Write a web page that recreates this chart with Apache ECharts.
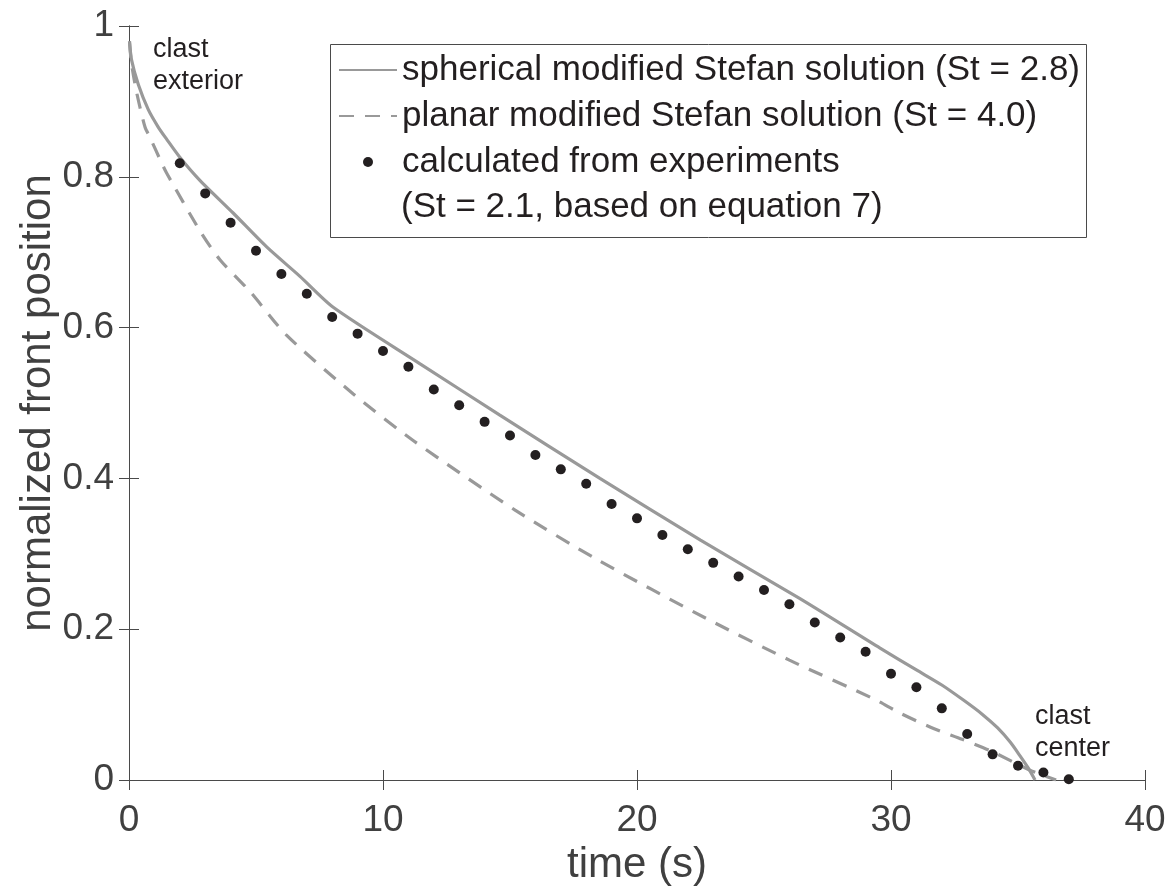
<!DOCTYPE html>
<html>
<head>
<meta charset="utf-8">
<script src="https://cdn.jsdelivr.net/npm/echarts@6/dist/echarts.min.js"></script>
<style>
html,body{margin:0;padding:0;background:#fff;}
#chart{width:1168px;height:890px;}
</style>
</head>
<body>
<div id="chart"></div>
<script>
// ---- data ----
const sphericalTime  = [0.02, 0.1, 0.37, 0.76, 1.15, 1.48, 2.0, 2.8, 4.1, 5.42, 6.73, 8.04, 11.46, 14.6, 18.54, 22.5, 26.4, 29.57, 31.0, 32.0, 32.85, 33.6, 34.2, 34.7, 35.08, 35.4, 35.67];
const sphericalValue = [0.98, 0.955, 0.922, 0.889, 0.866, 0.850, 0.826, 0.795, 0.752, 0.707, 0.668, 0.627, 0.552, 0.484, 0.400, 0.318, 0.241, 0.175, 0.146, 0.126, 0.106, 0.087, 0.069, 0.050, 0.032, 0.016, 0];

const planarTime  = [0.02, 0.1, 0.3, 0.63, 0.83, 1.29, 1.48, 2.8, 3.58, 4.76, 6.2, 8.83, 11.2, 15.2, 18.4, 22.74, 26.0, 29.3, 30.4, 31.7, 32.8, 33.9, 35.47, 36.5];
const planarValue = [0.978, 0.95, 0.912, 0.866, 0.852, 0.818, 0.805, 0.728, 0.690, 0.648, 0.590, 0.512, 0.450, 0.358, 0.293, 0.214, 0.159, 0.108, 0.088, 0.068, 0.054, 0.039, 0.013, 0];

const expTime  = [2, 3, 4, 5, 6, 7, 8, 9, 10, 11, 12, 13, 14, 15, 16, 17, 18, 19, 20, 21, 22, 23, 24, 25, 26, 27, 28, 29, 30, 31, 32, 33, 34, 35, 36, 37];
const expValue = [0.818, 0.778, 0.739, 0.702, 0.671, 0.645, 0.614, 0.592, 0.569, 0.548, 0.518, 0.497, 0.475, 0.457, 0.431, 0.412, 0.393, 0.366, 0.347, 0.325, 0.306, 0.288, 0.270, 0.252, 0.233, 0.209, 0.189, 0.170, 0.141, 0.123, 0.095, 0.061, 0.034, 0.019, 0.010, 0.001];

const seriesNames = [
  'spherical modified Stefan solution (St = 2.8)',
  'planar modified Stefan solution (St = 4.0)',
  'calculated from experiments'
];
const legendSecondLine = '(St = 2.1, based on equation 7)';
const xTitle = 'time (s)';
const yTitle = 'normalized front position';
const annotExterior = 'clast\nexterior';
const annotCenter = 'clast\ncenter';

const pairs = (xs, ys) => xs.map((x, i) => [x, ys[i]]);

// ---- styling ----
const FONT = '"Liberation Sans", Arial, Helvetica, sans-serif';
const AXIS_COLOR = '#4a4a4a';
const LINE_GRAY = '#999999';
const DOT = '#231f20';

const chart = echarts.init(document.getElementById('chart'), null, {renderer: 'canvas'});

const axisLineCfg = {show: true, lineStyle: {color: AXIS_COLOR, width: 1}};
const tickCfg = {show: true, inside: true, length: 10, lineStyle: {color: AXIS_COLOR, width: 1}};

chart.setOption({
  backgroundColor: '#ffffff',
  animation: false,
  grid: {left: 129, right: 23, top: 26, bottom: 110, containLabel: false, outerBoundsMode: 'none'},
  xAxis: [
    {
      type: 'value', min: 0, max: 40, interval: 10, position: 'bottom',
      axisLine: axisLineCfg, axisTick: tickCfg, splitLine: {show: false},
      axisLabel: {fontSize: 37, color: '#404040', fontFamily: FONT, margin: 22},
      name: xTitle, nameLocation: 'middle', nameGap: 64, nameMoveOverlap: false,
      nameTextStyle: {fontSize: 42, color: '#404040', fontFamily: FONT}
    },
    {
      type: 'value', min: 0, max: 40, interval: 10, position: 'top',
      axisLine: axisLineCfg, axisTick: tickCfg, splitLine: {show: false},
      axisLabel: {show: false}
    }
  ],
  yAxis: [
    {
      type: 'value', min: 0, max: 1, interval: 0.2, position: 'left',
      axisLine: axisLineCfg, axisTick: tickCfg, splitLine: {show: false},
      axisLabel: {fontSize: 37, color: '#404040', fontFamily: FONT, margin: 15,
        formatter: v => (v === 0 || v === 1) ? String(v) : v.toFixed(1)},
      name: yTitle, nameLocation: 'middle', nameGap: 70, nameMoveOverlap: false,
      nameTextStyle: {fontSize: 42, color: '#404040', fontFamily: FONT}
    },
    {
      type: 'value', min: 0, max: 1, interval: 0.2, position: 'right',
      axisLine: axisLineCfg, axisTick: tickCfg, splitLine: {show: false},
      axisLabel: {show: false}
    }
  ],
  legend: {
    orient: 'vertical', left: 338, top: 47, padding: 0,
    itemWidth: 58, itemHeight: 10, itemGap: 0,
    data: [
      {name: seriesNames[0], itemStyle: {opacity: 0}},
      {name: seriesNames[1], itemStyle: {opacity: 0}},
      {name: seriesNames[2]}
    ],
    textStyle: {fontSize: 35, lineHeight: 46, color: DOT, fontFamily: FONT}
  },
  series: [
    {
      name: seriesNames[0], type: 'line', xAxisIndex: 0, yAxisIndex: 0,
      data: pairs(sphericalTime, sphericalValue),
      showSymbol: false, symbol: 'none', smooth: 0.25,
      lineStyle: {color: LINE_GRAY, width: 3.2, type: 'solid'},
      itemStyle: {color: LINE_GRAY}, z: 2
    },
    {
      name: seriesNames[1], type: 'line', xAxisIndex: 0, yAxisIndex: 0,
      data: pairs(planarTime, planarValue),
      showSymbol: false, symbol: 'none', smooth: 0.25,
      lineStyle: {color: LINE_GRAY, width: 3.2, type: [15, 11]},
      itemStyle: {color: LINE_GRAY}, z: 2
    },
    {
      name: seriesNames[2], type: 'scatter', xAxisIndex: 0, yAxisIndex: 0,
      data: pairs(expTime, expValue),
      symbol: 'circle', symbolSize: 10,
      itemStyle: {color: DOT, opacity: 1}, z: 3
    }
  ],
  graphic: [
    {
      type: 'rect', left: 330, top: 44, z: 1, silent: true,
      shape: {width: 756, height: 193},
      style: {fill: '#ffffff', stroke: AXIS_COLOR, lineWidth: 1}
    },
    {
      type: 'text', left: 401, top: 207 - 23, z: 5, silent: true,
      style: {text: legendSecondLine, fontSize: 35, lineHeight: 46, fill: DOT, fontFamily: FONT, verticalAlign: 'top'}
    },
    {
      type: 'text', left: 153, top: 34, z: 5, silent: true,
      style: {text: annotExterior, fontSize: 27, lineHeight: 32, fill: DOT, fontFamily: FONT}
    },
    {
      type: 'text', left: 1035, top: 701, z: 5, silent: true,
      style: {text: annotCenter, fontSize: 27, lineHeight: 32, fill: DOT, fontFamily: FONT}
    }
  ]
});
</script>
</body>
</html>
